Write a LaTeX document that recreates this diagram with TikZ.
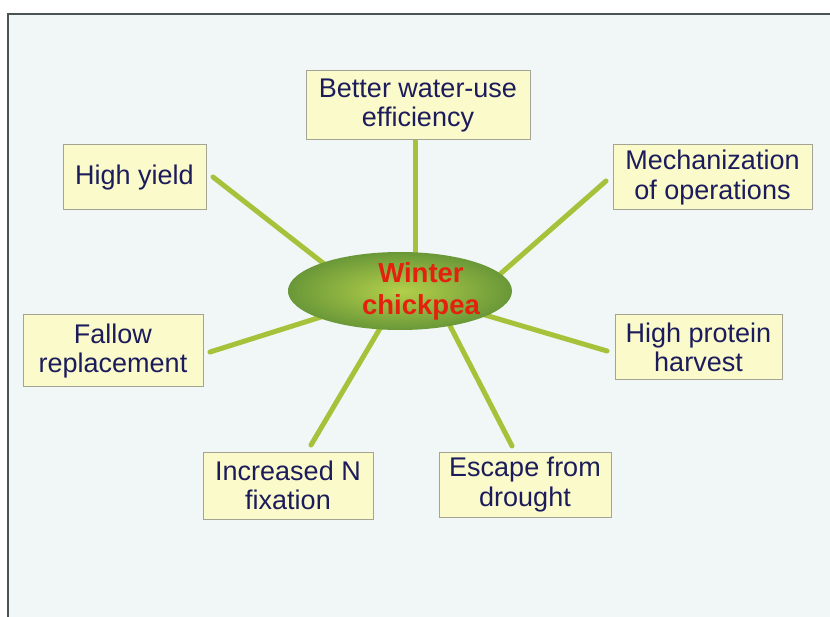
\documentclass[tikz,border=0pt]{standalone}
\usepackage{fontspec}
\setmainfont{Liberation Sans}
\usetikzlibrary{shapes.geometric}
\definecolor{bgc}{HTML}{F1F6F6}
\definecolor{framec}{HTML}{4A5454}
\definecolor{boxfill}{HTML}{FAFACB}
\definecolor{boxdraw}{HTML}{A4A494}
\definecolor{txt}{HTML}{1C1C5C}
\definecolor{spoke}{HTML}{A6C23A}
\definecolor{ellin}{HTML}{B4D04A}
\definecolor{ellout}{HTML}{6A9838}
\definecolor{redtxt}{HTML}{E4200E}
\begin{document}
\begin{tikzpicture}[x=1pt,y=-1pt,
  benefit/.style={draw=boxdraw,fill=boxfill,line width=1pt,text=txt,
    font=\fontsize{27}{29.5}\selectfont,align=center,inner sep=0pt},
  spk/.style={draw=spoke,line width=5pt,line cap=round}]
\useasboundingbox (0,0) rectangle (830,617);
\fill[white] (0,0) rectangle (830,617);
\fill[bgc] (8,14) rectangle (830,617);
\draw[framec,line width=2pt] (8,617) -- (8,14) -- (830,14);

% spoke end coordinates
\coordinate (a1) at (415,141); \coordinate (b1) at (415,262);
\coordinate (a2) at (213,177); \coordinate (b2) at (346,281);
\coordinate (a3) at (606,181); \coordinate (b3) at (490,283);
\coordinate (a4) at (210,352); \coordinate (b4) at (340,311);
\coordinate (a5) at (607,351); \coordinate (b5) at (485,315);
\coordinate (a6) at (311,445); \coordinate (b6) at (385,320);
\coordinate (a7) at (512,446); \coordinate (b7) at (447,320);

\foreach \i in {1,...,7} {\draw[spk] (b\i) -- (a\i);}

\node[ellipse,minimum width=224pt,minimum height=78pt,inner sep=0pt,
  shading=radial,inner color=ellin,outer color=ellout] (c) at (400,291) {};
\node[text=redtxt,font=\fontsize{27.5}{32}\bfseries\selectfont,align=center]
  (ct) at (421,291) {Winter\\chickpea};

\node[benefit,minimum width=224pt,minimum height=69pt] (water) at (418,105.5) {Better water-use\\efficiency};
\node[benefit,minimum width=143pt,minimum height=65pt] (yield) at (134.5,177.5) {High yield};
\node[benefit,minimum width=199pt,minimum height=65pt] (mech) at (712.5,177.5) {Mechanization\\of operations};
\node[benefit,minimum width=180pt,minimum height=72pt] (fallow) at (113,351) {Fallow\\replacement};
\node[benefit,minimum width=167pt,minimum height=65pt] (protein) at (698.5,347.5) {High protein\\harvest};
\node[benefit,minimum width=170pt,minimum height=67pt] (nfix) at (288,485.5) {Increased N\\fixation};
\node[benefit,minimum width=172pt,minimum height=65pt] (drought) at (525,484.5) {Escape from\\drought};
\end{tikzpicture}
\end{document}
